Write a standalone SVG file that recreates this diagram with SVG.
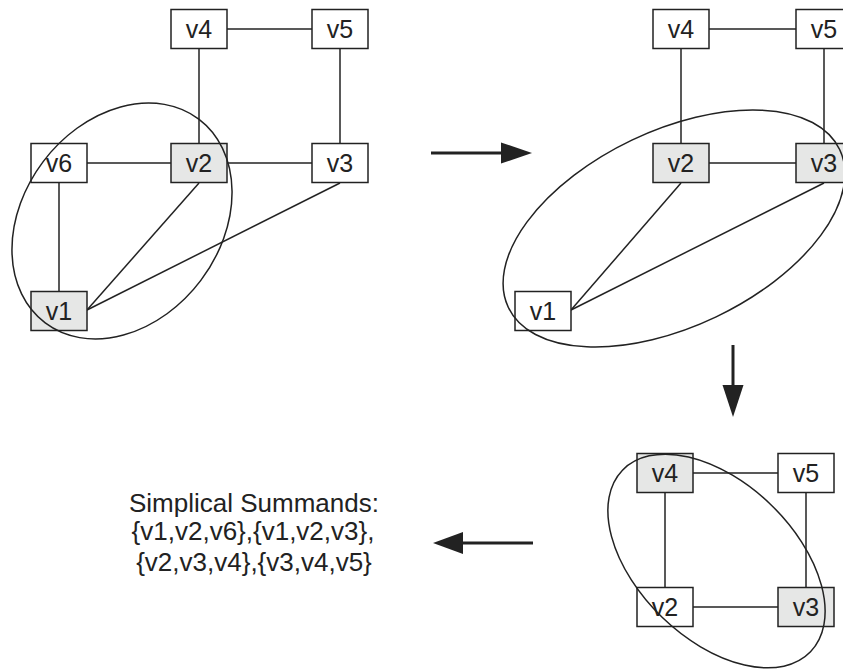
<svg xmlns="http://www.w3.org/2000/svg" width="843" height="669" viewBox="0 0 843 669">
<defs>
<style>
.n rect{fill:#fff;stroke:#222;stroke-width:1.5}
.n.h rect{fill:#e6e7e6}
.n text{font-family:"Liberation Sans",Arial,sans-serif;font-size:25px;fill:#222;text-anchor:middle}
.ell{fill:none;stroke:#222;stroke-width:1.5}
#edges line{stroke:#222;stroke-width:1.5}
.arr line{stroke:#222;stroke-width:3}
.arr polygon{fill:#222}
.lbl{font-family:"Liberation Sans",Arial,sans-serif;font-size:26px;fill:#222;text-anchor:middle}
</style>
</defs>
<rect width="843" height="669" fill="#fff"/>
<g id="edges">
<line x1="227" y1="29" x2="312" y2="29"/>
<line x1="199" y1="48" x2="199" y2="143"/>
<line x1="340" y1="48" x2="340" y2="143"/>
<line x1="87" y1="163" x2="171" y2="163"/>
<line x1="227" y1="163" x2="312" y2="163"/>
<line x1="59" y1="183" x2="59" y2="292"/>
<line x1="199" y1="183" x2="87" y2="310"/>
<line x1="340" y1="183" x2="87" y2="310"/>
<line x1="709" y1="29" x2="796" y2="29"/>
<line x1="681" y1="48" x2="681" y2="143"/>
<line x1="824" y1="48" x2="824" y2="143"/>
<line x1="709" y1="163" x2="796" y2="163"/>
<line x1="681" y1="183" x2="571" y2="310"/>
<line x1="824" y1="183" x2="571" y2="310"/>
<line x1="693" y1="473" x2="778" y2="473"/>
<line x1="665" y1="492" x2="665" y2="588"/>
<line x1="806" y1="492" x2="806" y2="588"/>
<line x1="693" y1="607" x2="778" y2="607"/>
</g>
<g id="p1-v4" class="n"><rect x="171" y="9.5" width="56" height="39"/><text x="199" y="38">v4</text></g>
<g id="p1-v5" class="n"><rect x="312" y="9.5" width="56" height="39"/><text x="340" y="38">v5</text></g>
<g id="p1-v6" class="n"><rect x="31" y="143.5" width="56" height="39"/><text x="59" y="172">v6</text></g>
<g id="p1-v2" class="n h"><rect x="171" y="143.5" width="56" height="39"/><text x="199" y="172">v2</text></g>
<g id="p1-v3" class="n"><rect x="312" y="143.5" width="56" height="39"/><text x="340" y="172">v3</text></g>
<g id="p1-v1" class="n h"><rect x="31" y="291.5" width="56" height="39"/><text x="59" y="320">v1</text></g>

<g id="p2-v4" class="n"><rect x="653" y="9.5" width="56" height="39"/><text x="681" y="38">v4</text></g>
<g id="p2-v5" class="n"><rect x="796" y="9.5" width="56" height="39"/><text x="824" y="38">v5</text></g>
<g id="p2-v2" class="n h"><rect x="653" y="143.5" width="56" height="39"/><text x="681" y="172">v2</text></g>
<g id="p2-v3" class="n h"><rect x="796" y="143.5" width="56" height="39"/><text x="824" y="172">v3</text></g>
<g id="p2-v1" class="n"><rect x="515" y="291.5" width="56" height="39"/><text x="543" y="320">v1</text></g>

<g id="p3-v4" class="n h"><rect x="637" y="453.5" width="56" height="39"/><text x="665" y="482">v4</text></g>
<g id="p3-v5" class="n"><rect x="778" y="453.5" width="56" height="39"/><text x="806" y="482">v5</text></g>
<g id="p3-v2" class="n"><rect x="637" y="587.5" width="56" height="39"/><text x="665" y="616">v2</text></g>
<g id="p3-v3" class="n h"><rect x="778" y="587.5" width="56" height="39"/><text x="806" y="616">v3</text></g>

<g id="cliques">
<ellipse class="ell" cx="122" cy="221" rx="127.6" ry="98.7" transform="rotate(-53 122 221)"/>
<ellipse class="ell" cx="674" cy="228.5" rx="183.5" ry="97.9" transform="rotate(-25.5 674 228.5)"/>
<ellipse class="ell" cx="716.5" cy="561" rx="130.7" ry="78.3" transform="rotate(44 716.5 561)"/>
</g>
<g id="arrows" class="arr">
<line x1="431" y1="153" x2="503" y2="153"/><polygon points="501,142.5 532,153 501,163.5"/>
<line x1="733" y1="345" x2="733" y2="387"/><polygon points="722.5,385 743.5,385 733,417"/>
<line x1="533" y1="543" x2="461" y2="543"/><polygon points="463,532 433,543 463,554"/>
</g>
<g id="summands">
<text class="lbl" x="254" y="512">Simplical Summands:</text>
<text class="lbl" x="253" y="540">{v1,v2,v6},{v1,v2,v3},</text>
<text class="lbl" x="254" y="571">{v2,v3,v4},{v3,v4,v5}</text>
</g>
</svg>
